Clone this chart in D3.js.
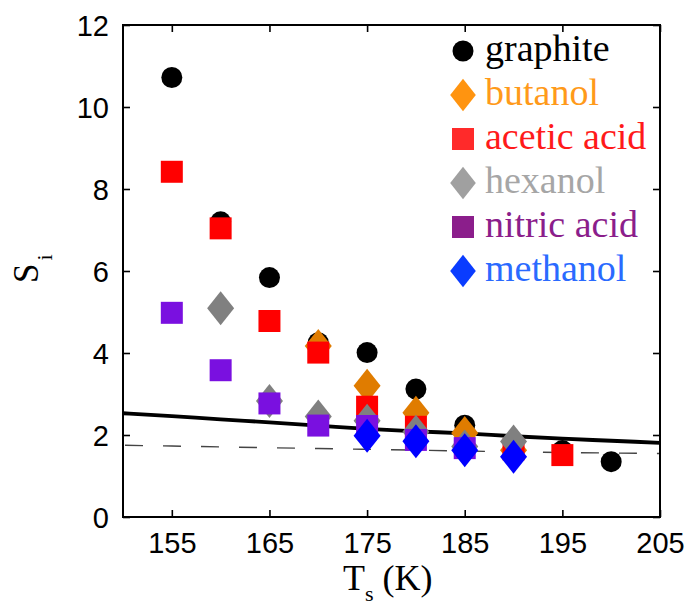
<!DOCTYPE html>
<html>
<head>
<meta charset="utf-8">
<script src="https://cdn.jsdelivr.net/npm/d3@7"></script>
<style>
  body { margin: 0; background: #fff; }
  svg { display: block; }
</style>
</head>
<body>
<div id="chart"></div>
<script>
// Data
const xTicks = [155, 165, 175, 185, 195, 205];
const yTicks = [0, 2, 4, 6, 8, 10, 12];

const graphiteT = [155, 160, 165, 170, 175, 180, 185, 195, 200];
const graphiteS = [10.72, 7.2, 5.84, 4.25, 4.01, 3.12, 2.24, 1.62, 1.35];

const butanolT = [170, 175, 180, 185, 190];
const butanolS = [4.17, 3.2, 2.54, 2.05, 1.63];

const aceticT = [155, 160, 165, 170, 175, 180, 190, 195];
const aceticS = [8.42, 7.04, 4.78, 4.01, 2.69, 2.2, 1.65, 1.51];

const hexanolT = [160, 165, 170, 175, 180, 185, 190];
const hexanolS = [5.09, 2.83, 2.45, 2.35, 2.08, 1.72, 1.84];

const nitricT = [155, 160, 165, 170, 175, 180, 185];
const nitricS = [4.98, 3.58, 2.77, 2.23, 2.22, 1.88, 1.68];

const methanolT = [175, 180, 185, 190];
const methanolS = [1.98, 1.85, 1.63, 1.47];

const fitT = [150, 155, 160, 165, 170, 175, 180, 185, 190, 195, 200, 205];
const fitS = [2.53, 2.46, 2.38, 2.31, 2.23, 2.15, 2.09, 2.04, 1.97, 1.91, 1.86, 1.81];

const dashT = [150, 160, 170, 180, 190, 200, 205];
const dashS = [1.75, 1.71, 1.67, 1.63, 1.59, 1.56, 1.55];

const series = [
    { name: 'graphite',    T: graphiteT, S: graphiteS, shape: 'circle',  fill: '#000000', legendFill: '#000000', text: '#000000' },
    { name: 'butanol',     T: butanolT,  S: butanolS,  shape: 'diamond', fill: '#e07c00', legendFill: '#ff9410', text: '#ff9a1a' },
    { name: 'acetic acid', T: aceticT,   S: aceticS,   shape: 'square',  fill: '#ff0000', legendFill: '#ff2a2a', text: '#ff1a1a' },
    { name: 'hexanol',     T: hexanolT,  S: hexanolS,  shape: 'diamond', fill: '#808080', legendFill: '#a0a0a0', text: '#a6a6a6' },
    { name: 'nitric acid', T: nitricT,   S: nitricS,   shape: 'square',  fill: '#7a10e0', legendFill: '#8b1e8b', text: '#8b1e8b' },
    { name: 'methanol',    T: methanolT, S: methanolS, shape: 'diamond', fill: '#0000ff', legendFill: '#0a3cff', text: '#2a6aff' }
];

const W = 688, H = 606;
const margin = { top: 25, right: 28, bottom: 89, left: 123 };
const width = W - margin.left - margin.right;
const height = H - margin.top - margin.bottom;

const svg = d3.select('#chart').append('svg')
    .attr('width', W)
    .attr('height', H);

const g = svg.append('g')
    .attr('transform', `translate(${margin.left},${margin.top})`);

const x = d3.scaleLinear().domain([150, 205]).range([0, width]);
const y = d3.scaleLinear().domain([0, 12]).range([height, 0]);

// marker paths centred on 0,0
function markerPath(shape, s) {
    if (shape === 'circle') {
        const r = 10.5 * s;
        return `M${-r},0A${r},${r} 0 1,0 ${r},0A${r},${r} 0 1,0 ${-r},0Z`;
    }
    if (shape === 'square') {
        const h = 11 * s;
        return `M${-h},${-h}H${h}V${h}H${-h}Z`;
    }
    const hw = 13.5 * s, hh = 17 * s;
    return `M0,${-hh}L${hw},0L0,${hh}L${-hw},0Z`;
}

// fit lines first, markers on top
const line = d3.line().x(d => x(d[0])).y(d => y(d[1])).curve(d3.curveMonotoneX);

g.append('path')
    .datum(dashT.map((t, i) => [t, dashS[i]]))
    .attr('d', line)
    .attr('fill', 'none')
    .attr('stroke', '#444')
    .attr('stroke-width', 1.4)
    .attr('stroke-dasharray', '18,20')
    .attr('stroke-dashoffset', -2);

g.append('path')
    .datum(fitT.map((t, i) => [t, fitS[i]]))
    .attr('d', line)
    .attr('fill', 'none')
    .attr('stroke', '#000')
    .attr('stroke-width', 3.8);

series.forEach(s => {
    g.append('g').selectAll('path')
        .data(s.T.map((t, i) => [t, s.S[i]]))
        .join('path')
        .attr('transform', d => `translate(${x(d[0])},${y(d[1])})`)
        .attr('d', markerPath(s.shape, 1))
        .attr('fill', s.fill);
});

// frame with inward ticks on all sides
const tickLen = 7;
const font = 'Liberation Sans, Arial, Helvetica, sans-serif';

const xAxis = g.append('g')
    .attr('transform', `translate(0,${height})`)
    .call(d3.axisBottom(x).tickValues(xTicks).tickSizeInner(-tickLen).tickSizeOuter(0).tickPadding(15));
const xTop = g.append('g')
    .call(d3.axisTop(x).tickValues(xTicks).tickSizeInner(-tickLen).tickSizeOuter(0).tickFormat(''));
const yAxis = g.append('g')
    .call(d3.axisLeft(y).tickValues(yTicks).tickSizeInner(-tickLen).tickSizeOuter(0).tickPadding(14));
const yRight = g.append('g')
    .attr('transform', `translate(${width},0)`)
    .call(d3.axisRight(y).tickValues(yTicks).tickSizeInner(-tickLen).tickSizeOuter(0).tickFormat(''));

[xAxis, xTop, yAxis, yRight].forEach(a => {
    a.select('.domain').remove();
    a.selectAll('.tick line').attr('stroke', '#000').attr('stroke-width', 1.6);
    a.selectAll('.tick text')
        .attr('fill', '#000')
        .style('font-family', font)
        .style('font-size', '29px');
});
yAxis.selectAll('.tick text').attr('dy', '0.36em');
xAxis.selectAll('.tick text').attr('dy', '0.71em');

g.append('rect')
    .attr('width', width)
    .attr('height', height)
    .attr('fill', 'none')
    .attr('stroke', '#000')
    .attr('stroke-width', 2);

// legend
const serif = 'Liberation Serif, Times New Roman, serif';
const legend = svg.append('g').attr('transform', 'translate(463,51)');
series.forEach((s, i) => {
    const row = legend.append('g').attr('transform', `translate(0,${i * 44})`);
    row.append('path')
        .attr('d', markerPath(s.shape, s.shape === 'diamond' ? 0.95 : 1))
        .attr('fill', s.legendFill);
    row.append('text')
        .attr('x', 22)
        .attr('y', 10)
        .attr('fill', s.text)
        .style('font-family', serif)
        .style('font-size', '38px')
        .text(s.name);
});

// axis titles
const xt = svg.append('text')
    .attr('x', 343)
    .attr('y', 590)
    .style('font-family', serif)
    .style('font-size', '36px')
    .attr('fill', '#000');
xt.append('tspan').text('T');
xt.append('tspan').attr('dy', 11).style('font-size', '22px').text('s');
xt.append('tspan').attr('dy', -11).text(' (K)');

const yt = svg.append('text')
    .attr('transform', 'translate(38,283) rotate(-90)')
    .style('font-family', serif)
    .style('font-size', '35px')
    .attr('fill', '#000');
yt.append('tspan').text('S');
yt.append('tspan').attr('dy', 14).attr('dx', 3).style('font-size', '22px').text('i');
</script>
</body>
</html>
